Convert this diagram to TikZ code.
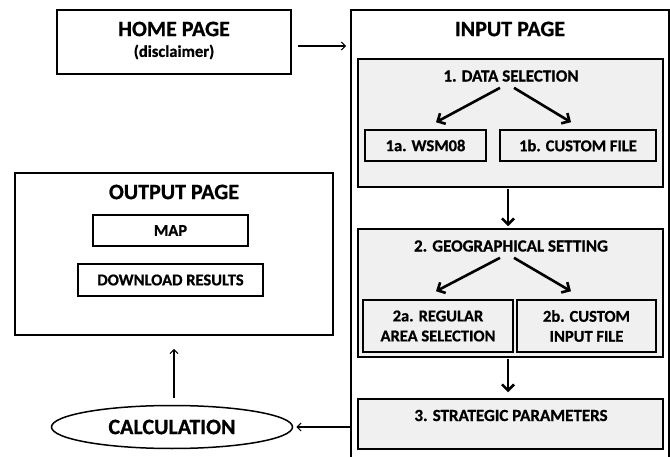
\documentclass[tikz,border=0pt]{standalone}
\usepackage{fontspec}
\setmainfont{Carlito}[BoldFeatures={FakeBold=0.8}]
\usetikzlibrary{calc, arrows.meta, shapes.geometric}

\begin{document}
\begin{tikzpicture}[x=1pt, y=-1pt,
		pagebox/.style={draw, line width=1.8pt, inner sep=0pt},
		stepbox/.style={draw, line width=1.5pt, fill=gray!12, inner sep=0pt},
		itembox/.style={draw, line width=1.5pt, inner sep=0pt, align=center,
			font=\bfseries\fontsize{16.5}{20}\selectfont},
		bigtitle/.style={inner sep=0pt, font=\bfseries\fontsize{22}{24}\selectfont},
		subtitle/.style={inner sep=0pt, font=\bfseries\fontsize{17}{19}\selectfont},
		thinarrow/.style={-{Straight Barb[length=4pt,width=8pt]}, line width=1.1pt},
		bigarrow/.style={-{Straight Barb[length=6pt,width=12pt]}, line width=2.6pt}]
		\useasboundingbox (0,0) rectangle (670,457);
		
		% home page
		\node[pagebox, minimum width=234, minimum height=64] (home) at (174,42) {};
		\node[bigtitle] (hometitle) at (174,29) {HOME PAGE};
		\node[inner sep=0pt, font=\bfseries\fontsize{16.5}{18}\selectfont] (disclaimer) at (174,52) {(disclaimer)};
		
		% input page, runs off the bottom edge
		\node[pagebox, minimum width=318, minimum height=460] (input) at (510,240) {};
		\node[bigtitle] (inputtitle) at (510,29) {INPUT PAGE};
		
		% step 1
		\node[stepbox, minimum width=305, minimum height=128] (datasel) at (510.5,123) {};
		\node[subtitle] (datatitle) at (511,76) {1. DATA SELECTION};
		\node[itembox, minimum width=121, minimum height=31] (wsm) at (425.5,145.5) {1a. WSM08};
		\node[itembox, minimum width=156, minimum height=31] (customfile) at (578,145.5) {1b. CUSTOM FILE};
		
		% step 2
		\node[stepbox, minimum width=305, minimum height=128] (geo) at (510.5,293) {};
		\node[subtitle] (geotitle) at (511,246) {2. GEOGRAPHICAL SETTING};
		\node[itembox, minimum width=150, minimum height=52] (regular) at (438,326) {2a. REGULAR\\AREA SELECTION};
		\node[itembox, minimum width=139, minimum height=52] (custominput) at (586.5,326) {2b. CUSTOM\\INPUT FILE};
		
		% step 3
		\node[stepbox, minimum width=305, minimum height=50] (strategic) at (510.5,424) {};
		\node[subtitle] (strattitle) at (511,415.5) {3. STRATEGIC PARAMETERS};
		
		% output page
		\node[pagebox, minimum width=318, minimum height=162] (output) at (174,254) {};
		\node[bigtitle] (outputtitle) at (174,192) {OUTPUT PAGE};
		\node[itembox, minimum width=155, minimum height=31] (map) at (170.5,230.5) {MAP};
		\node[itembox, minimum width=185, minimum height=32] (download) at (170.5,280) {DOWNLOAD RESULTS};
		
		% calculation
		\node[draw, ellipse, line width=1.5pt, minimum width=241, minimum height=43, inner sep=0pt,
			font=\bfseries\fontsize{22}{24}\selectfont] (calc) at (172,427) {CALCULATION};
		
		% arrows inside the input page
		\draw[bigarrow] ($(datatitle.south)+(-11,6)$) -- ($(wsm.north)+(10.5,-7)$);
		\draw[bigarrow] ($(datatitle.south)+(3,6)$) -- ($(customfile.north)+(-7,-7)$);
		\draw[bigarrow] ($(geotitle.south)+(-11,6)$) -- ($(regular.north)+(-2,-8)$);
		\draw[bigarrow] ($(geotitle.south)+(3,6)$) -- ($(custominput.north)+(-15.5,-8)$);
		\draw[bigarrow] ($(datasel.south)+(-2.5,1)$) -- ($(geo.north)+(-2.5,-2)$);
		\draw[bigarrow] ($(geo.south)+(-2.5,1)$) -- ($(strategic.north)+(-2.5,-6)$);
		
		% page flow
		\draw[thinarrow] ($(home.east)+(6,4)$) -- ($(home.east -| input.west)+(-4,4)$);
		\draw[thinarrow] (calc.east -| input.west) -- ($(calc.east)+(3,0)$);
		\draw[thinarrow] ($(calc.north)+(2,-7)$) -- ($(output.south)+(0,13)$);
		
	\end{tikzpicture}
\end{document}
